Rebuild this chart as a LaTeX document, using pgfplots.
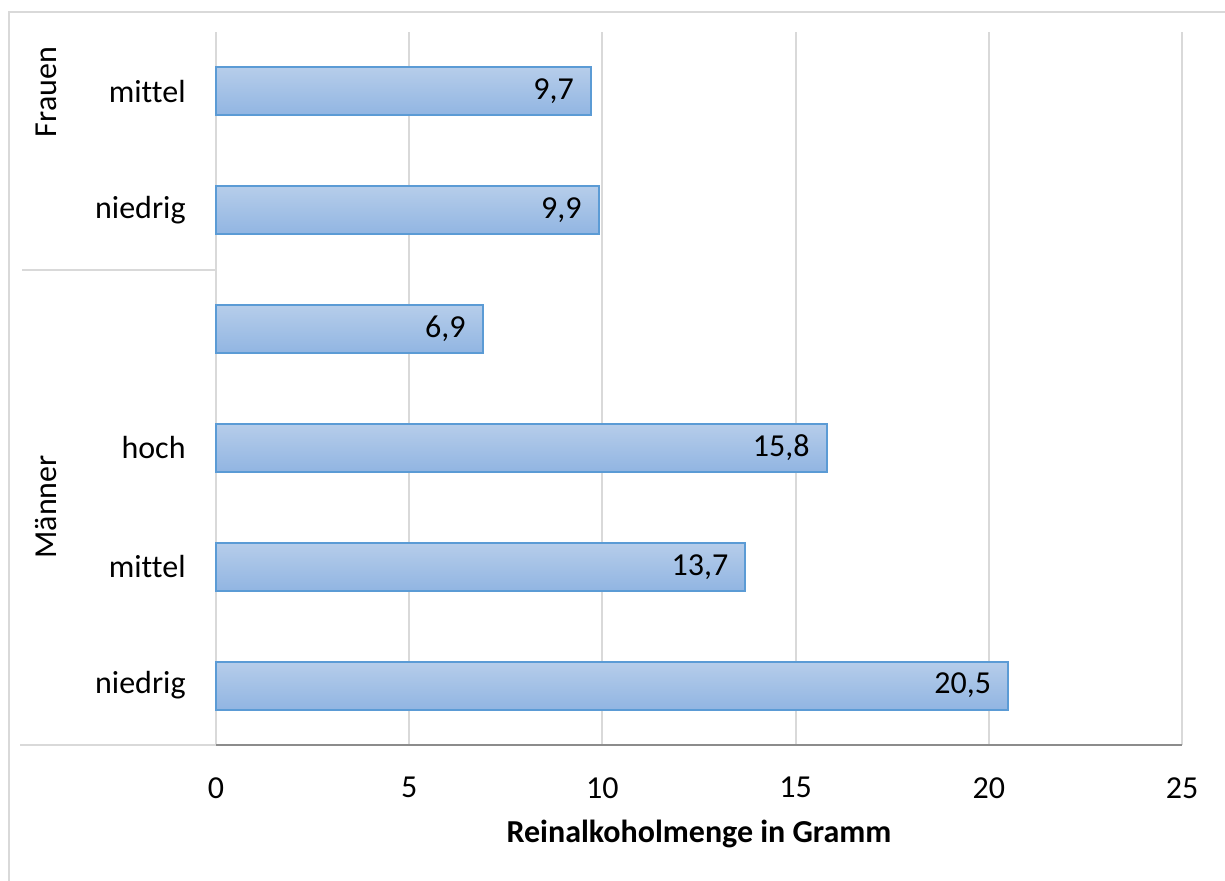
\documentclass[border=0pt]{standalone}
\usepackage{pgfplots}
\pgfplotsset{compat=1.18}
\usepackage{fontspec}
\setmainfont{Carlito}[Ligatures=NoCommon]
\definecolor{gridgray}{RGB}{217,217,217}
\definecolor{axgray}{RGB}{140,140,140}
\definecolor{barline}{RGB}{91,155,213}
\definecolor{bartop}{RGB}{182,205,234}
\definecolor{barbot}{RGB}{145,181,226}
\pgfplotsset{mybar/.style={xbar, bar width=24pt, bar shift=0pt, draw=barline, line width=1pt,
  top color=bartop, bottom color=barbot,
  nodes near coords={\pgfmathprintnumber[fixed, precision=1, fixed zerofill, use comma]{\pgfplotspointmeta}},
  nodes near coords style={anchor=east, inner sep=0pt, xshift=-8pt, font=\fontsize{16}{19}\selectfont, text=black}}}
\begin{document}
\begin{tikzpicture}[x=0.5pt,y=0.5pt]
\useasboundingbox (0,0) rectangle (1225,881);
\draw[gridgray, line width=1pt] (9,0) -- (9,869) -- (1225,869);
\begin{axis}[
  at={(108pt,68pt)}, anchor=south west,
  width=483pt, height=356.5pt, scale only axis,
  xmin=0, xmax=25, ymin=-0.5, ymax=5.5,
  axis lines*=left,
  x axis line style={axgray, line width=1pt},
  y axis line style={draw=none},
  xtick={0,5,...,25},
  xmajorgrids, grid style={gridgray, line width=1pt},
  ytick={0,1,2,3,4,5},
  yticklabels={niedrig,mittel,hoch,,niedrig,mittel},
  major tick length=0pt, tick style={draw=none},
  /pgf/number format/assume math mode=true,
  tick label style={font=\fontsize{16}{19}\selectfont, text=black},
  yticklabel style={anchor=east, inner sep=0pt, xshift=-15pt},
  xticklabel style={anchor=north, inner sep=0pt, yshift=-16pt},
  xlabel={\bfseries Reinalkoholmenge in Gramm},
  xlabel style={font=\fontsize{16}{19}\selectfont, at={(axis description cs:0.5,0)}, anchor=base, yshift=-49pt},
  clip=false,
]
\addplot[mybar] coordinates {(20.5,0)};
\addplot[mybar] coordinates {(13.7,1)};
\addplot[mybar] coordinates {(15.8,2)};
\addplot[mybar] coordinates {(6.9,3)};
\addplot[mybar] coordinates {(9.9,4)};
\addplot[mybar] coordinates {(9.7,5)};
\end{axis}
\draw[gridgray, line width=1pt] (22,611) -- (216,611);
\draw[gridgray, line width=1pt] (20,136) -- (216,136);
\node[rotate=90, font=\fontsize{16}{19}\selectfont] at (46,789) {Frauen};
\node[rotate=90, font=\fontsize{16}{19}\selectfont] at (46,374) {Männer};
\end{tikzpicture}
\end{document}
